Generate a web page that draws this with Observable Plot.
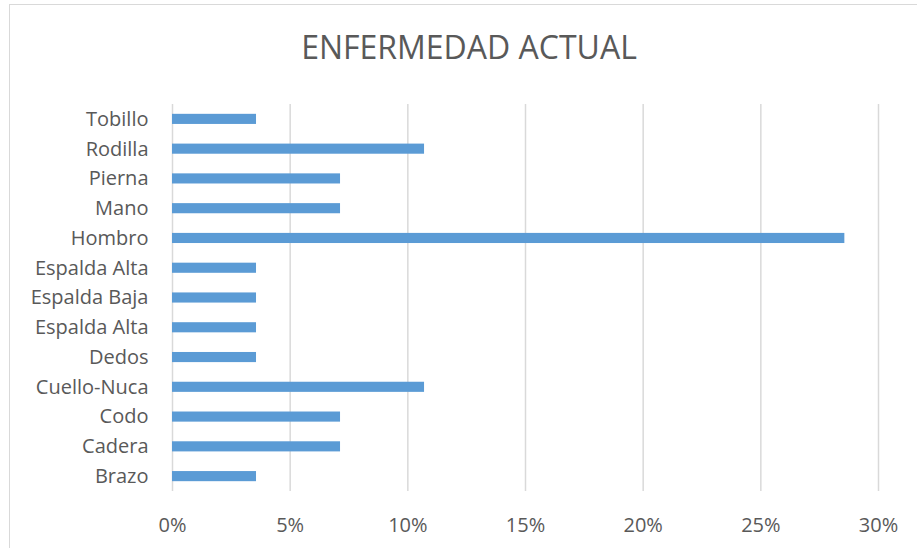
<!DOCTYPE html>
<html>
<head>
<meta charset="utf-8">
<script src="https://cdn.jsdelivr.net/npm/d3@7"></script>
<script src="https://cdn.jsdelivr.net/npm/@observablehq/plot@0.6"></script>
<style>
  html, body { margin: 0; padding: 0; background: #fff; }
  #wrap { position: relative; width: 917px; height: 548px; overflow: hidden; font-family: "Open Sans", sans-serif; }
  #frame { position: absolute; left: 9px; top: 4px; width: 940px; height: 580px; border: 1.5px solid #d9d9d9; box-sizing: border-box; }
  #title { position: absolute; left: 0; width: 938px; top: 27px; text-align: center; font-size: 32px; color: #595959; line-height: 40px; }
  #chart { position: absolute; left: 0; top: 90px; }
</style>
</head>
<body>
<div id="wrap">
  <div id="frame"></div>
  <div id="title">ENFERMEDAD ACTUAL</div>
  <div id="chart"></div>
</div>
<script>
const categories = ["Tobillo","Rodilla","Pierna","Mano","Hombro","Espalda Alta","Espalda Baja","Espalda Alta","Dedos","Cuello-Nuca","Codo","Cadera","Brazo"];
const values = [0.0357, 0.1071, 0.0714, 0.0714, 0.2857, 0.0357, 0.0357, 0.0357, 0.0357, 0.1071, 0.0714, 0.0714, 0.0357];
const xTicks = [0, 0.05, 0.10, 0.15, 0.20, 0.25, 0.30];

const data = categories.map((c, i) => ({key: i, name: c, value: values[i]}));

const chart = Plot.plot({
  width: 917,
  height: 458,
  marginLeft: 172,
  marginRight: 39,
  marginTop: 14,
  marginBottom: 57,
  style: {fontFamily: "'Open Sans', sans-serif", fontSize: "20px", color: "#595959", background: "transparent"},
  x: {domain: [0, 0.30], ticks: xTicks, tickFormat: d => Math.round(d * 100) + "%"},
  y: {domain: d3.range(categories.length), tickFormat: i => categories[i], paddingInner: 0.66, paddingOuter: 0.33, round: false},
  marks: [
    Plot.gridX(xTicks, {stroke: "#d9d9d9", strokeOpacity: 1, strokeWidth: 1.5}),
    Plot.axisX({ticks: xTicks, tickSize: 0, tickPadding: 26, tickFormat: d => Math.round(d * 100) + "%", label: null, fill: "#595959", fontSize: 20}),
    Plot.axisY({tickSize: 0, tickPadding: 24, tickFormat: i => categories[i], label: null, fill: "#595959", fontSize: 20}),
    Plot.barX(data, {x: "value", y: "key", fill: "#5b9bd5"})
  ]
});
document.getElementById("chart").appendChild(chart);
</script>
</body>
</html>
